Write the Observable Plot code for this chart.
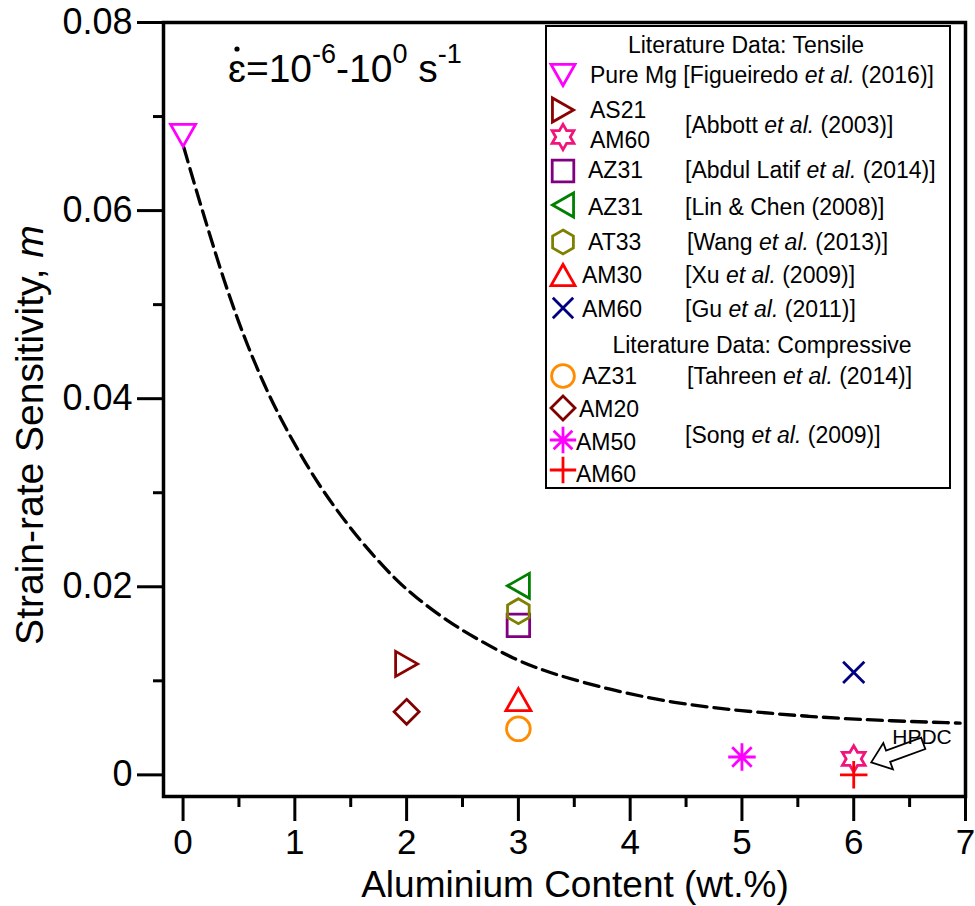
<!DOCTYPE html>
<html><head><meta charset="utf-8">
<script src="https://cdn.jsdelivr.net/npm/d3@7"></script>
<script src="https://cdn.jsdelivr.net/npm/@observablehq/plot@0.6"></script>
<style>body{margin:0;background:#fff;}</style>
</head><body><div id="chart"></div>
<script>
// ---- data ----
const alloys    = ["Pure Mg","AS21","AM60","AZ31","AZ31","AT33","AM30","AM60","AZ31","AM20","AM50","AM60"];
const aluminium = [0,2,6,3,3,3,3,6,3,2,5,6];
const srs       = [0.068,0.0118,0.0017,0.0159,0.0201,0.0174,0.0080,0.0109,0.0049,0.0067,0.0019,0.0];
const markers   = ["triangleDown","triangleRight","hexagram","square","triangleLeft","hexagon","triangleUp","times","circle","diamond","asterisk","plus"];
const colors    = ["#ff00ff","#8b0000","#f0147c","#800080","#008000","#808000","#ff0000","#000080","#ff8c00","#800000","#ff00ff","#ff0000"];
const refAuthors = ["Figueiredo","Abbott","Abdul Latif","Lin & Chen","Wang","Xu","Gu","Tahreen","Song"];
const refEtAl    = [true,true,true,false,true,true,true,true,true];
const refYears   = ["2016","2003","2014","2008","2013","2009","2011","2014","2009"];
const fitX = [0.007,0.112,0.186,0.276,0.366,0.471,0.575,0.724,0.875,1.053,1.232,1.471,1.680,1.890,2.068,2.367,2.666,2.964,3.203,3.383,3.801,4.398,4.996,5.593,6.190,6.952];
const fitY = [0.0667,0.0624,0.0595,0.0560,0.0526,0.0490,0.0457,0.0415,0.0378,0.0340,0.0305,0.0266,0.0236,0.0209,0.0190,0.0163,0.0142,0.0123,0.0112,0.0105,0.0091,0.0076,0.0068,0.0062,0.0058,0.0055];
const xTicks = [0,1,2,3,4,5,6,7];
const xMinor = [0.5,1.5,2.5,3.5,4.5,5.5,6.5];
const yTicks = [0,0.02,0.04,0.06,0.08];
const yMinor = [0.01,0.03,0.05,0.07];
const xTitle = "Aluminium Content (wt.%)";
const yTitle = "Strain-rate Sensitivity, ";
const hpdcLabel = "HPDC";

// ---- symbols ----
const S3 = Math.sqrt(3);
function poly(c, pts){ c.moveTo(pts[0][0],pts[0][1]); for(let i=1;i<pts.length;i++) c.lineTo(pts[i][0],pts[i][1]); c.closePath(); }
const rOf = s => Math.sqrt(s/Math.PI);
const symDefs = {
  triangleDown:{draw(c,s){const a=rOf(s),h=0.88*a;poly(c,[[-a,-h],[a,-h],[0,h]]);}},
  triangleUp:{draw(c,s){const a=rOf(s),h=0.88*a;poly(c,[[-a,h],[a,h],[0,-h]]);}},
  triangleRight:{draw(c,s){const a=rOf(s),h=0.88*a;poly(c,[[-h,-a],[-h,a],[h,0]]);}},
  triangleLeft:{draw(c,s){const a=rOf(s),h=0.88*a;poly(c,[[h,-a],[h,a],[-h,0]]);}},
  square:{draw(c,s){const a=rOf(s)*0.9;poly(c,[[-a,-a],[a,-a],[a,a],[-a,a]]);}},
  circle:{draw(c,s){const a=rOf(s)*0.95;c.moveTo(a,0);c.arc(0,0,a,0,2*Math.PI);c.closePath();}},
  diamond:{draw(c,s){const a=rOf(s);poly(c,[[0,-a],[a,0],[0,a],[-a,0]]);}},
  hexagon:{draw(c,s){const a=rOf(s)*1.0;const p=[];for(let k=0;k<6;k++){const t=-Math.PI/2+k*Math.PI/3;p.push([a*Math.cos(t),a*Math.sin(t)]);}poly(c,p);}},
  hexagram:{draw(c,s){const a=rOf(s)*1.05,b=a/S3;const p=[];for(let k=0;k<12;k++){const t=-Math.PI/2+k*Math.PI/6;const r=k%2?b:a;p.push([r*Math.cos(t),r*Math.sin(t)]);}poly(c,p);}},
  times:{draw(c,s){const a=rOf(s)*0.85;c.moveTo(-a,-a);c.lineTo(a,a);c.moveTo(a,-a);c.lineTo(-a,a);}},
  plus:{draw(c,s){const a=rOf(s)*1.1;c.moveTo(-a,0);c.lineTo(a,0);c.moveTo(0,-a);c.lineTo(0,a);}},
  asterisk:{draw(c,s){const a=rOf(s)*1.1,d=a*Math.SQRT1_2;c.moveTo(-a,0);c.lineTo(a,0);c.moveTo(0,-a);c.lineTo(0,a);c.moveTo(-d,-d);c.lineTo(d,d);c.moveTo(d,-d);c.lineTo(-d,d);}}
};
function symPath(name, r){ const p = d3.path(); symDefs[name].draw(p, Math.PI*r*r); return p.toString(); }

const points = alloys.map((a,i)=>({alloy:a, al:aluminium[i], m:srs[i], sym:symDefs[markers[i]], color:colors[i]}));
const fit = fitX.map((x,i)=>({x, y:fitY[i]}));

const FONT = "'Liberation Sans', Arial, Helvetica, sans-serif";

function refSpans(t, i){
  t.append("tspan").text("[" + refAuthors[i] + " ");
  if (refEtAl[i]) { t.append("tspan").attr("font-style","italic").text("et al."); t.append("tspan").text(" (" + refYears[i] + ")]"); }
  else t.append("tspan").text("(" + refYears[i] + ")]");
}

// legend + annotations (layout only)
function annotations(index, scales, values, dims){
  const g = d3.create("svg:g").attr("font-family", FONT).attr("fill","black").attr("text-anchor","start");
  // strain-rate annotation
  const e = g.append("text").attr("x",228).attr("y",82).attr("font-size",39);
  e.append("tspan").text("\u025B");
  e.append("tspan").text("=10");
  e.append("tspan").attr("font-size",27).attr("dy",-19).text("-6");
  e.append("tspan").attr("dy",19).text("-10");
  e.append("tspan").attr("font-size",27).attr("dy",-19).text("0");
  e.append("tspan").attr("dy",19).text(" s");
  e.append("tspan").attr("font-size",27).attr("dy",-19).text("-1");
  g.append("circle").attr("cx",237).attr("cy",49).attr("r",2.6).attr("fill","black");
  // axis titles
  g.append("text").attr("x", 575).attr("y", 897).attr("text-anchor","middle").attr("font-size",37).text(xTitle);
  const yt = g.append("text").attr("transform","translate(43,435) rotate(-90)").attr("text-anchor","middle").attr("font-size",39);
  yt.append("tspan").text(yTitle); yt.append("tspan").attr("font-style","italic").text("m");

  // legend box
  const L = g.append("g").attr("font-size",23);
  L.append("rect").attr("x",546).attr("y",26).attr("width",404).attr("height",462).attr("fill","white").attr("stroke","black").attr("stroke-width",2);
  L.append("text").attr("x",746).attr("y",53).attr("text-anchor","middle").text("Literature Data: Tensile");
  L.append("text").attr("x",762).attr("y",353).attr("text-anchor","middle").text("Literature Data: Compressive");
  const symY = [75,110,137,171,205,242,275,308,376,408,440,470];
  const labX = [590,590,590,588,588,588,582,582,582,579,576,576];
  const labB = [83,118,148,178,215,250,283,317,384,417,450,482];
  alloys.forEach((a,i)=>{
    L.append("path").attr("transform",`translate(563,${symY[i]})`).attr("d",symPath(markers[i],12))
      .attr("fill","none").attr("stroke",colors[i]).attr("stroke-width",2.8);
    const t = L.append("text").attr("x",labX[i]).attr("y",labB[i]);
    t.append("tspan").text(a);
    if (i === 0) { t.append("tspan").text(" "); refSpans(t, 0); }
  });
  const refPos = [null,[685,133],[685,178],[685,215],[687,250],[685,283],[685,317],[687,384],[685,443]];
  refPos.forEach((p,i)=>{ if(!p) return; refSpans(L.append("text").attr("x",p[0]).attr("y",p[1]), i); });

  // HPDC arrow anchored at Abbott AM60 point
  const ax = scales.x(aluminium[2]), ay = scales.y(srs[2]);
  const T = [ax+18, ay+4], C = [ax+70, ay-15];
  const ang = Math.atan2(C[1]-T[1], C[0]-T[0]), Lh = Math.hypot(C[0]-T[0], C[1]-T[1]);
  const hl=18, hw=14, sw=6;
  const loc = [[0,0],[hl,hw],[hl,sw],[Lh,sw],[Lh,-sw],[hl,-sw],[hl,-hw]];
  const pts = loc.map(([u,v])=>[T[0]+u*Math.cos(ang)-v*Math.sin(ang), T[1]+u*Math.sin(ang)+v*Math.cos(ang)]);
  g.append("path").attr("d","M"+pts.map(p=>p.join(",")).join("L")+"Z").attr("fill","white").attr("stroke","black").attr("stroke-width",1.8);
  g.append("text").attr("x",ax+39).attr("y",ay-14).attr("font-size",21).text(hpdcLabel);
  return g.node();
}

const chart = Plot.plot({
  width: 975, height: 906,
  marginLeft: 163, marginRight: 10, marginTop: 22, marginBottom: 110,
  style: {fontFamily: FONT, background: "white", color: "black", overflow: "visible"},
  x: {domain: [-0.175, 7], label: null},
  y: {domain: [-0.0023, 0.08], label: null},
  marks: [
    Plot.line(fit, {x:"x", y:"y", stroke:"black", strokeWidth:3.3, strokeDasharray:"15,7", curve:"basis"}),
    Plot.dot(points, {x:"al", y:"m", symbol:"sym", stroke:"color", fill:"none", r:12.5, strokeWidth:2.8}),
    Plot.frame({stroke:"black", strokeWidth:3.5}),
    Plot.axisX(xTicks, {anchor:"bottom", tickSize:25, tickPadding:8, strokeWidth:3, fontSize:35, tickFormat:d=>String(d), label:null}),
    Plot.axisX(xMinor, {anchor:"bottom", tickSize:11, strokeWidth:3, tickFormat:()=>"", label:null}),
    Plot.axisY(yTicks, {anchor:"left", tickSize:26, tickPadding:5, strokeWidth:3, fontSize:36, tickFormat:d=>d===0?"0":d.toFixed(2), label:null}),
    Plot.axisY(yMinor, {anchor:"left", tickSize:10, strokeWidth:3, tickFormat:()=>"", label:null}),
    annotations
  ]
});
document.getElementById("chart").appendChild(chart);
</script>
</body></html>
